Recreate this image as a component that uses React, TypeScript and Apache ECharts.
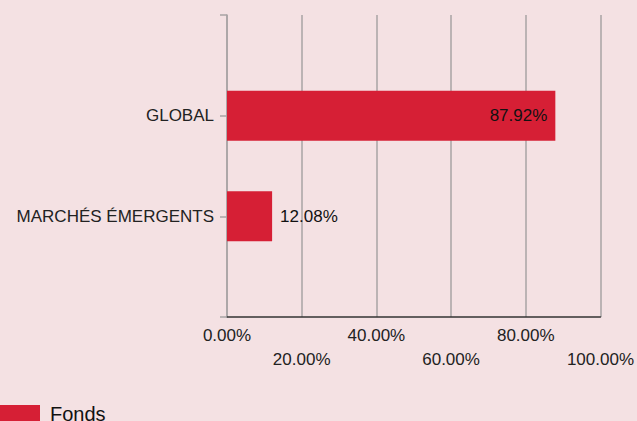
import React, { useEffect, useRef } from "react";
import * as echarts from "echarts";

const categories = ["", "GLOBAL", "MARCHÉS ÉMERGENTS", ""];
const fondsValues: (number | string)[] = ["-", 87.92, 12.08, "-"];
const labelPositions = ["right", "insideRight", "right", "right"];
const xTicks = [0, 20, 40, 60, 80, 100];
const seriesName = "Fonds";

export default function App() {
  const ref = useRef<HTMLDivElement>(null);
  useEffect(() => {
    document.body.style.margin = "0";
    if (!ref.current) return;
    const chart = echarts.init(ref.current, undefined, { renderer: "svg" });
    const font = "'Liberation Sans', Arial, sans-serif";
    chart.setOption({
      animation: false,
      backgroundColor: "#f4e1e3",
      textStyle: { fontFamily: font },
      grid: { left: 227, right: 36, top: 15, bottom: 104, containLabel: false },
      legend: {
        left: 0,
        top: 404,
        padding: 0,
        itemWidth: 40,
        itemHeight: 18,
        icon: "rect",
        data: [seriesName],
        textStyle: { fontSize: 20, color: "#111", fontFamily: font, padding: [0, 0, 0, 5] },
      },
      xAxis: {
        type: "value",
        min: xTicks[0],
        max: xTicks[xTicks.length - 1],
        interval: 20,
        axisLine: { show: true, lineStyle: { color: "#333", width: 1.5 } },
        axisTick: { show: false },
        splitLine: { show: true, lineStyle: { color: "#a8a3a4", width: 1.5 } },
        axisLabel: {
          fontSize: 17,
          color: "#222",
          margin: 6,
          lineHeight: 24,
          fontFamily: font,
          formatter: (v: number) => {
            const idx = xTicks.indexOf(v);
            const t = v.toFixed(2) + "%";
            return idx % 2 === 1 ? "\n" + t : t;
          },
        },
      },
      yAxis: {
        type: "category",
        data: categories,
        inverse: true,
        boundaryGap: false,
        axisLine: { show: true, lineStyle: { color: "#a8a3a4", width: 1.5 } },
        axisTick: { show: true, length: 7, lineStyle: { color: "#a8a3a4", width: 1.5 } },
        axisLabel: { fontSize: 17, color: "#222", margin: 13, fontFamily: font },
      },
      series: [
        {
          name: seriesName,
          type: "bar",
          barWidth: 50,
          itemStyle: { color: "#d61f35" },
          data: fondsValues.map((v, i) => ({
            value: v,
            label: {
              show: true,
              position: labelPositions[i],
              distance: 8,
              fontSize: 17,
              color: "#111",
              fontFamily: font,
              formatter: (p: any) => Number(p.value).toFixed(2) + "%",
            },
          })),
        },
      ],
    });
    return () => chart.dispose();
  }, []);
  return <div ref={ref} style={{ width: 637, height: 421 }} />;
}
